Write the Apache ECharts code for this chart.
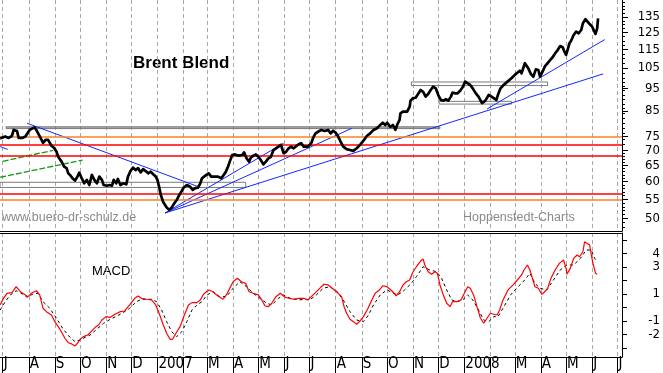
<!DOCTYPE html>
<html><head><meta charset="utf-8">
<script src="https://cdn.jsdelivr.net/npm/echarts@6/dist/echarts.min.js"></script>
<style>html,body{margin:0;padding:0;background:#fff}#c{width:663px;height:373px}</style>
</head><body><div id="c"></div>
<script>
const priceDates = ['2006-06-28','2006-07-04','2006-07-08','2006-07-12','2006-07-14','2006-07-18','2006-07-20','2006-07-24','2006-07-28','2006-07-30',
'2006-08-02','2006-08-05','2006-08-08','2006-08-10','2006-08-12','2006-08-15','2006-08-18','2006-08-21','2006-08-24','2006-08-26','2006-08-28','2006-08-31',
'2006-09-03','2006-09-05','2006-09-09','2006-09-12','2006-09-15','2006-09-17','2006-09-20','2006-09-22','2006-09-25','2006-09-28','2006-09-30',
'2006-10-03','2006-10-06','2006-10-09','2006-10-12','2006-10-15','2006-10-18','2006-10-21','2006-10-24','2006-10-27','2006-10-29',
'2006-11-02','2006-11-05','2006-11-08','2006-11-10','2006-11-13','2006-11-15','2006-11-18','2006-11-21','2006-11-25','2006-11-27','2006-11-30',
'2006-12-03','2006-12-06','2006-12-09','2006-12-12','2006-12-15','2006-12-18','2006-12-21','2006-12-24','2006-12-27','2006-12-30',
'2007-01-01','2007-01-03','2007-01-05','2007-01-08','2007-01-12','2007-01-15','2007-01-18','2007-01-21','2007-01-24','2007-01-27','2007-01-29',
'2007-02-01','2007-02-05','2007-02-09','2007-02-12','2007-02-15','2007-02-18','2007-02-21','2007-02-23','2007-02-25','2007-02-27',
'2007-03-03','2007-03-06','2007-03-08','2007-03-11','2007-03-14','2007-03-18','2007-03-20','2007-03-23','2007-03-26','2007-03-28','2007-03-31',
'2007-04-03','2007-04-07','2007-04-09','2007-04-12','2007-04-14','2007-04-17','2007-04-20','2007-04-22','2007-04-25','2007-04-28',
'2007-05-01','2007-05-04','2007-05-07','2007-05-10','2007-05-13','2007-05-16','2007-05-19','2007-05-22','2007-05-25','2007-05-28','2007-05-31',
'2007-06-03','2007-06-06','2007-06-09','2007-06-12','2007-06-14','2007-06-18','2007-06-21','2007-06-24','2007-06-26','2007-06-29',
'2007-07-03','2007-07-05','2007-07-08','2007-07-11','2007-07-15','2007-07-19','2007-07-23','2007-07-26','2007-07-29',
'2007-08-01','2007-08-04','2007-08-07','2007-08-10','2007-08-14','2007-08-18','2007-08-22','2007-08-26','2007-08-30',
'2007-09-03','2007-09-07','2007-09-11','2007-09-15','2007-09-19','2007-09-23','2007-09-26','2007-09-29',
'2007-10-01','2007-10-05','2007-10-08','2007-10-11','2007-10-13','2007-10-16','2007-10-17','2007-10-20','2007-10-22','2007-10-25','2007-10-28','2007-10-29',
'2007-11-01','2007-11-04','2007-11-07','2007-11-10','2007-11-13','2007-11-16','2007-11-19','2007-11-22','2007-11-25','2007-11-28',
'2007-12-01','2007-12-04','2007-12-07','2007-12-10','2007-12-13','2007-12-16','2007-12-18','2007-12-21','2007-12-24','2007-12-27','2007-12-30',
'2008-01-02','2008-01-05','2008-01-08','2008-01-11','2008-01-14','2008-01-18','2008-01-22','2008-01-26','2008-01-30',
'2008-02-01','2008-02-05','2008-02-08','2008-02-10','2008-02-13','2008-02-16','2008-02-20','2008-02-22','2008-02-26',
'2008-03-01','2008-03-04','2008-03-07','2008-03-09','2008-03-13','2008-03-15','2008-03-17','2008-03-20','2008-03-23','2008-03-26','2008-03-29','2008-03-31',
'2008-04-03','2008-04-06','2008-04-09','2008-04-12','2008-04-15','2008-04-18','2008-04-21','2008-04-24','2008-04-27','2008-04-29',
'2008-05-01','2008-05-03','2008-05-05','2008-05-07','2008-05-10','2008-05-13','2008-05-16','2008-05-19','2008-05-21','2008-05-24','2008-05-26','2008-05-29',
'2008-06-01','2008-06-03','2008-06-05','2008-06-07','2008-06-08'];
const priceValues = [74.2,74.9,74.4,75.2,77.4,77.0,74.4,74.4,74.9,75.5,
77.4,77.9,78.3,77.4,76.2,74.4,72.6,73.7,73.7,73.0,71.6,70.9,
69.5,67.8,66.2,64.6,64.1,62.5,61.7,61.0,60.3,61.5,62.7,
61.0,59.5,60.5,59.0,62.0,60.5,59.5,61.5,60.5,59.0,
58.8,59.0,58.8,60.5,59.5,60.8,59.0,59.5,59.2,61.5,63.2,
64.3,63.5,64.1,62.8,63.8,63.2,62.5,63.0,62.2,61.5,
60.5,58.5,56.2,54.2,52.8,52.2,52.8,53.9,54.8,56.2,56.9,
58.2,59.0,58.5,57.6,58.1,58.2,59.5,61.0,61.5,61.8,
62.5,61.5,62.0,61.5,61.5,61.0,61.5,62.8,64.6,66.2,68.4,
68.6,68.2,68.6,68.4,69.3,67.3,66.2,67.5,68.2,68.6,
67.8,66.7,65.3,66.2,67.3,67.8,70.1,70.7,71.3,71.9,69.0,
69.5,70.7,71.3,70.7,71.3,72.1,72.5,71.3,71.3,71.3,
72.5,74.3,76.1,76.7,77.4,77.0,77.4,76.1,77.1,
76.3,74.9,73.0,71.3,70.4,70.1,69.8,70.7,71.9,
73.4,75.1,76.1,77.4,78.0,79.3,80.2,79.3,
80.2,78.6,79.3,77.4,79.3,81.3,84.0,84.7,84.3,84.7,86.8,89.4,
90.5,90.7,92.4,94.2,93.4,91.2,92.4,94.2,95.8,95.0,
91.9,89.7,89.4,90.0,89.4,91.2,93.0,92.7,92.7,93.9,95.5,
98.2,97.4,96.6,95.0,93.0,91.1,88.3,89.4,92.0,
92.7,90.5,89.7,92.0,95.0,96.3,97.7,98.6,99.8,
101.5,102.6,103.6,102.3,107.5,108.3,104.9,102.0,100.6,104.3,104.0,100.6,
103.1,106.0,107.5,109.2,110.7,112.9,114.7,117.0,116.3,113.8,
112.0,115.1,118.6,120.1,123.5,125.6,124.6,126.6,130.9,133.5,133.5,130.4,
128.7,127.7,124.2,127.7,134.1];

const macdDates = ['2006-06-28','2006-07-02','2006-07-06','2006-07-12','2006-07-17','2006-07-22','2006-07-28','2006-07-31',
'2006-08-04','2006-08-10','2006-08-14','2006-08-18','2006-08-22','2006-08-28',
'2006-09-01','2006-09-07','2006-09-13','2006-09-17','2006-09-21','2006-09-25','2006-09-28',
'2006-10-01','2006-10-05','2006-10-10','2006-10-13','2006-10-19','2006-10-23','2006-10-27',
'2006-11-01','2006-11-06','2006-11-12','2006-11-18','2006-11-23','2006-11-29',
'2006-12-05','2006-12-09','2006-12-13','2006-12-19','2006-12-25','2006-12-30',
'2007-01-03','2007-01-08','2007-01-12','2007-01-16','2007-01-19','2007-01-23','2007-01-28',
'2007-02-02','2007-02-07','2007-02-11','2007-02-17','2007-02-21','2007-02-25',
'2007-03-03','2007-03-08','2007-03-14','2007-03-20','2007-03-24','2007-03-28',
'2007-04-01','2007-04-06','2007-04-11','2007-04-16','2007-04-20','2007-04-25',
'2007-05-01','2007-05-05','2007-05-09','2007-05-13','2007-05-17','2007-05-22','2007-05-27',
'2007-06-02','2007-06-07','2007-06-12','2007-06-18','2007-06-24','2007-06-29',
'2007-07-07','2007-07-13','2007-07-18','2007-07-23','2007-07-29',
'2007-08-04','2007-08-08','2007-08-11','2007-08-14','2007-08-18','2007-08-23','2007-08-26','2007-08-30',
'2007-09-03','2007-09-08','2007-09-13','2007-09-17','2007-09-22','2007-09-26',
'2007-10-01','2007-10-07','2007-10-12','2007-10-16','2007-10-20','2007-10-24','2007-10-28',
'2007-11-01','2007-11-05','2007-11-10','2007-11-13','2007-11-15','2007-11-19','2007-11-23','2007-11-27','2007-11-30',
'2007-12-03','2007-12-07','2007-12-11','2007-12-15','2007-12-18','2007-12-23','2007-12-28',
'2008-01-01','2008-01-05','2008-01-08','2008-01-12','2008-01-16','2008-01-20','2008-01-24','2008-01-28',
'2008-02-01','2008-02-05','2008-02-09','2008-02-12','2008-02-16','2008-02-22','2008-02-28',
'2008-03-05','2008-03-09','2008-03-12','2008-03-16','2008-03-19','2008-03-22','2008-03-25','2008-03-29',
'2008-04-02','2008-04-05','2008-04-09','2008-04-13','2008-04-18','2008-04-23','2008-04-28',
'2008-05-01','2008-05-02','2008-05-06','2008-05-10','2008-05-14','2008-05-17','2008-05-21','2008-05-23','2008-05-25','2008-05-29','2008-05-31',
'2008-06-02','2008-06-05','2008-06-07'];
const macdValues = [0.19,0.68,1.05,1.10,1.54,1.17,0.93,0.80,
1.05,1.24,0.93,-0.06,-0.31,-0.56,
-1.05,-1.61,-2.28,-2.61,-2.70,-2.85,-2.65,
-2.36,-2.16,-2.04,-1.87,-1.47,-1.30,-0.93,
-0.68,-0.73,-0.48,-0.31,-0.26,0.19,
0.68,0.85,0.68,0.61,0.56,0.19,
-0.43,-1.30,-1.91,-2.36,-2.36,-1.91,-1.42,
-0.56,0.19,0.36,0.36,0.56,1.00,
1.30,1.17,0.85,0.61,0.93,1.42,
1.91,2.16,1.91,1.79,1.17,1.05,
0.93,0.56,0.11,0.06,0.31,0.80,1.05,
0.76,0.68,0.61,0.68,0.68,0.56,
1.05,1.42,1.72,1.67,1.37,
1.05,0.80,0.06,-0.43,-0.87,-1.10,-1.24,-1.00,
-0.68,-0.11,0.56,1.05,1.30,1.61,
1.54,1.22,0.87,1.17,1.67,1.91,2.04,
2.65,3.02,3.44,3.59,3.15,2.65,2.46,2.65,2.53,
1.67,0.93,0.31,0.06,0.43,0.43,0.56,
1.05,1.54,1.42,0.93,0.06,-0.76,-1.17,-0.80,
-0.43,-0.50,-0.56,-0.19,0.56,1.30,1.67,
2.11,2.41,2.78,3.15,2.78,2.16,1.54,1.42,
0.98,1.13,1.42,2.16,2.78,3.27,3.52,
2.90,2.46,2.90,3.64,3.89,3.76,4.13,4.87,5.00,4.63,3.89,
3.27,2.53,2.46];

const signalDates = ['2006-06-28','2006-07-04','2006-07-10','2006-07-17','2006-07-22','2006-07-30',
'2006-08-06','2006-08-12','2006-08-18','2006-08-26',
'2006-09-03','2006-09-11','2006-09-19','2006-09-25',
'2006-10-01','2006-10-07','2006-10-13','2006-10-21','2006-10-29',
'2006-11-06','2006-11-14','2006-11-21','2006-11-29',
'2006-12-07','2006-12-13','2006-12-25','2006-12-31',
'2007-01-06','2007-01-12','2007-01-18','2007-01-24','2007-01-30',
'2007-02-05','2007-02-11','2007-02-17','2007-02-23',
'2007-03-01','2007-03-08','2007-03-16','2007-03-24',
'2007-04-01','2007-04-09','2007-04-17','2007-04-25',
'2007-05-03','2007-05-11','2007-05-17','2007-05-25','2007-05-31',
'2007-06-08','2007-06-18','2007-06-26',
'2007-07-01','2007-07-09','2007-07-17','2007-07-25',
'2007-08-02','2007-08-10','2007-08-18','2007-08-26',
'2007-09-03','2007-09-09','2007-09-15','2007-09-23',
'2007-10-01','2007-10-09','2007-10-14','2007-10-22','2007-10-30',
'2007-11-05','2007-11-13','2007-11-21','2007-11-29',
'2007-12-05','2007-12-11','2007-12-17','2007-12-23','2007-12-30',
'2008-01-05','2008-01-11','2008-01-18','2008-01-24','2008-01-30',
'2008-02-05','2008-02-10','2008-02-16','2008-02-25',
'2008-03-03','2008-03-11','2008-03-19','2008-03-25','2008-03-31',
'2008-04-08','2008-04-16','2008-04-24',
'2008-05-02','2008-05-10','2008-05-18','2008-05-25','2008-05-31',
'2008-06-04','2008-06-06'];
const signalValues = [-0.19,0.43,0.93,1.24,1.10,0.76,
1.00,1.05,0.43,-0.06,
-0.80,-1.61,-2.21,-2.53,
-2.41,-2.21,-2.04,-1.61,-1.17,
-0.87,-0.63,-0.39,-0.06,
0.43,0.61,0.61,0.43,
-0.19,-1.05,-1.79,-2.16,-1.79,
-1.05,-0.19,0.19,0.43,
0.93,1.17,0.80,0.80,
1.42,1.91,1.54,1.05,
0.68,0.31,0.19,0.68,0.93,
0.68,0.56,0.61,
0.56,0.93,1.42,1.54,
1.22,0.56,-0.31,-0.93,
-1.05,-0.56,0.19,0.93,
1.30,1.05,0.93,1.30,1.79,
2.28,3.02,2.78,2.65,
2.16,1.30,0.56,0.43,0.56,
0.93,0.56,-0.19,-0.93,-1.05,
-0.68,-0.68,-0.06,0.93,
1.42,1.91,2.53,1.79,1.42,
1.30,2.04,2.78,
3.15,3.15,3.64,4.26,4.26,
3.64,3.40];

const priceTickLabels = [50,55,60,65,70,75,85,95,105,115,125,135];
const macdTickLabels = [4,3,1,-1,-2];
const macdTicks = [-3,-2,-1,0,1,2,3,4,5];
const monthStarts = ['2006-07-01','2006-08-01','2006-09-01','2006-10-01','2006-11-01','2006-12-01',
'2007-01-01','2007-02-01','2007-03-01','2007-04-01','2007-05-01','2007-06-01','2007-07-01','2007-08-01','2007-09-01','2007-10-01','2007-11-01','2007-12-01',
'2008-01-01','2008-02-01','2008-03-01','2008-04-01','2008-05-01','2008-06-01','2008-07-01'];
const monthLetters = ['J','','M','A','M','J','J','A','S','O','N','D'];

const orangeLevels = [75.0, 55.0];
const redLevels = [71.8, 68.0, 56.4];
const blueTrends = [
  ['2006-07-30', 80.0, '2007-02-21', 58.3],
  ['2006-06-28', 71.3, '2006-07-07', 70.3],
  ['2007-01-10', 51.4, '2007-05-31', 72.5],
  ['2007-01-10', 51.4, '2007-08-20', 78.0],
  ['2007-01-10', 51.4, '2008-06-14', 102.0],
  ['2008-01-28', 85.8, '2008-06-16', 120.8]
];
const greenTrends = [
  ['2006-07-01', 66.3, '2006-08-30', 70.0],
  ['2006-06-28', 61.3, '2006-10-04', 66.7]
];
const boxes = [
  ['2006-07-05', '2007-12-03', 77.9, 78.6],
  ['2006-06-27 19:00', '2007-04-16', 58.3, 59.8],
  ['2007-10-30', '2008-04-09', 96.3, 98.0],
  ['2007-12-02', '2008-02-26', 87.9, 89.1]
];

const xMin = '2006-06-27 19:00', xMax = '2008-07-06 12:00';
const pMin = 47.04, pMax = 146.79;
const mMin = -3.67, mMax = 5.52;

function ts(s) {
  const m = s.match(/(\d+)-(\d+)-(\d+)(?: (\d+):(\d+))?/);
  return Date.UTC(+m[1], +m[2] - 1, +m[3], +(m[4] || 0), +(m[5] || 0));
}
const narrow = '"Liberation Sans Narrow","DejaVu Sans Condensed","Liberation Sans",Arial,sans-serif';
const minorTicks = [];
for (let v = 48; v <= 70; v += 1) minorTicks.push(Math.log(v));
for (let v = 72; v <= 100; v += 2) minorTicks.push(Math.log(v));
for (let v = 102.5; v <= 145; v += 2.5) minorTicks.push(Math.log(v));
const monthTs = monthStarts.map(ts);

const chart = echarts.init(document.getElementById('c'));
const series = [];
series.push({
  type: 'line', xAxisIndex: 0, yAxisIndex: 0, data: [[ts(xMin), null]], silent: true, z: 1, showSymbol: false,
  markLine: {
    symbol: 'none', silent: true, animation: false, label: { show: false },
    data: orangeLevels.map(v => ({ yAxis: v, lineStyle: { color: '#ff8020', width: 1.5, type: 'solid' } }))
      .concat(redLevels.map(v => ({ yAxis: v, lineStyle: { color: '#ff0000', width: 1.6, type: 'solid' } })))
  },
  markArea: {
    silent: true, animation: false,
    data: boxes.map((b, i) => [
      { xAxis: ts(b[0]), yAxis: b[2], itemStyle: { color: i === 0 ? 'rgba(110,110,110,0.55)' : 'rgba(255,255,255,0)', borderColor: '#7a7a7a', borderWidth: 1 } },
      { xAxis: ts(b[1]), yAxis: b[3] }
    ])
  }
});
blueTrends.forEach(t => series.push({
  type: 'line', xAxisIndex: 0, yAxisIndex: 0, showSymbol: false, silent: true, z: 4,
  data: [[ts(t[0]), t[1]], [ts(t[2]), t[3]]], lineStyle: { color: '#1028ff', width: 1 }
}));
greenTrends.forEach(t => series.push({
  type: 'line', xAxisIndex: 0, yAxisIndex: 0, showSymbol: false, silent: true, z: 4,
  data: [[ts(t[0]), t[1]], [ts(t[2]), t[3]]], lineStyle: { color: '#129a12', width: 1.3, type: [6, 2] }
}));
series.push({
  type: 'line', xAxisIndex: 0, yAxisIndex: 0, showSymbol: false, silent: true, z: 10,
  data: priceDates.map((d, i) => [ts(d), priceValues[i]]),
  lineStyle: { color: '#000', width: 2.7, join: 'round' }
});
series.push({
  type: 'line', xAxisIndex: 1, yAxisIndex: 3, showSymbol: false, silent: true, z: 5,
  data: signalDates.map((d, i) => [ts(d), signalValues[i]]),
  lineStyle: { color: '#000', width: 1, type: [3, 3] }
});
series.push({
  type: 'line', xAxisIndex: 1, yAxisIndex: 3, showSymbol: false, silent: true, z: 6,
  data: macdDates.map((d, i) => [ts(d), macdValues[i]]),
  lineStyle: { color: '#ff0000', width: 1.2 }
});

const gridLine = { show: true, lineStyle: { color: '#a8a8a8', width: 1, type: [4, 3] } };
const option = {
  animation: false,
  backgroundColor: '#fff',
  grid: [
    { left: 0, right: 41, top: 0, height: 231 },
    { left: 0, right: 41, top: 233, height: 124 }
  ],
  xAxis: [
    { type: 'value', gridIndex: 0, min: ts(xMin), max: ts(xMax), position: 'bottom',
      axisLine: { show: true, onZero: false, lineStyle: { color: '#000', width: 1 } },
      axisTick: { show: false, customValues: monthTs },
      axisLabel: { show: false }, splitLine: gridLine },
    { type: 'value', gridIndex: 1, min: ts(xMin), max: ts(xMax), position: 'bottom',
      axisLine: { show: true, onZero: false, lineStyle: { color: '#000', width: 1 } },
      axisTick: { show: true, customValues: monthTs, length: 16, lineStyle: { color: '#000' } },
      axisLabel: { show: true, customValues: monthTs, align: 'left', margin: 0, padding: [0, 0, 0, 1],
        fontSize: 15, fontFamily: narrow, color: '#000', hideOverlap: false,
        formatter: function (v) { const d = new Date(v); const m = d.getUTCMonth(); return m === 0 ? String(d.getUTCFullYear()) : monthLetters[m]; } },
      splitLine: gridLine },
    { type: 'value', gridIndex: 1, min: ts(xMin), max: ts(xMax), position: 'top',
      axisLine: { show: true, onZero: false, lineStyle: { color: '#000', width: 1 } },
      axisTick: { show: false }, axisLabel: { show: false }, splitLine: { show: false } }
  ],
  yAxis: [
    { type: 'log', logBase: 10, gridIndex: 0, min: pMin, max: pMax, position: 'right',
      axisLine: { show: true, onZero: false, lineStyle: { color: '#000' } }, axisTick: { show: false },
      axisLabel: { show: false }, splitLine: { show: false } },
    { type: 'value', gridIndex: 0, min: Math.log(pMin), max: Math.log(pMax), position: 'right',
      axisLine: { show: false, onZero: false },
      axisTick: { show: true, customValues: priceTickLabels.map(Math.log), length: 6, lineStyle: { color: '#000' } },
      axisLabel: { show: true, customValues: priceTickLabels.map(Math.log), align: 'right', margin: 38,
        fontSize: 13, fontFamily: narrow, color: '#000',
        formatter: function (v) { return String(Math.round(Math.exp(v))); } },
      splitLine: { show: false } },
    { type: 'value', gridIndex: 0, min: Math.log(pMin), max: Math.log(pMax), position: 'right',
      axisLine: { show: false, onZero: false },
      axisTick: { show: true, customValues: minorTicks, length: 3, lineStyle: { color: '#000' } },
      axisLabel: { show: false }, splitLine: { show: false } },
    { type: 'value', gridIndex: 1, min: mMin, max: mMax, position: 'right',
      axisLine: { show: true, onZero: false, lineStyle: { color: '#000' } },
      axisTick: { show: true, customValues: macdTicks, length: 5, lineStyle: { color: '#000' } },
      axisLabel: { show: true, customValues: macdTickLabels, align: 'right', margin: 38,
        fontSize: 13, fontFamily: narrow, color: '#000' },
      splitLine: { show: false } }
  ],
  graphic: [
    { type: 'text', left: 133, top: 55, style: { text: 'Brent Blend', font: 'bold 17px "Liberation Sans", Arial, sans-serif', fill: '#000' } },
    { type: 'text', left: 2, top: 211, style: { text: 'www.buero-dr-schulz.de', font: '12.5px "Liberation Sans", Arial, sans-serif', fill: '#8a8a8a' } },
    { type: 'text', left: 463, top: 211, style: { text: 'Hoppenstedt-Charts', font: '12.5px "Liberation Sans", Arial, sans-serif', fill: '#8a8a8a' } },
    { type: 'text', left: 92, top: 265, style: { text: 'MACD', font: '13px "Liberation Sans", Arial, sans-serif', fill: '#000' } }
  ],
  series: series
};
chart.setOption(option);
</script>
</body></html>
